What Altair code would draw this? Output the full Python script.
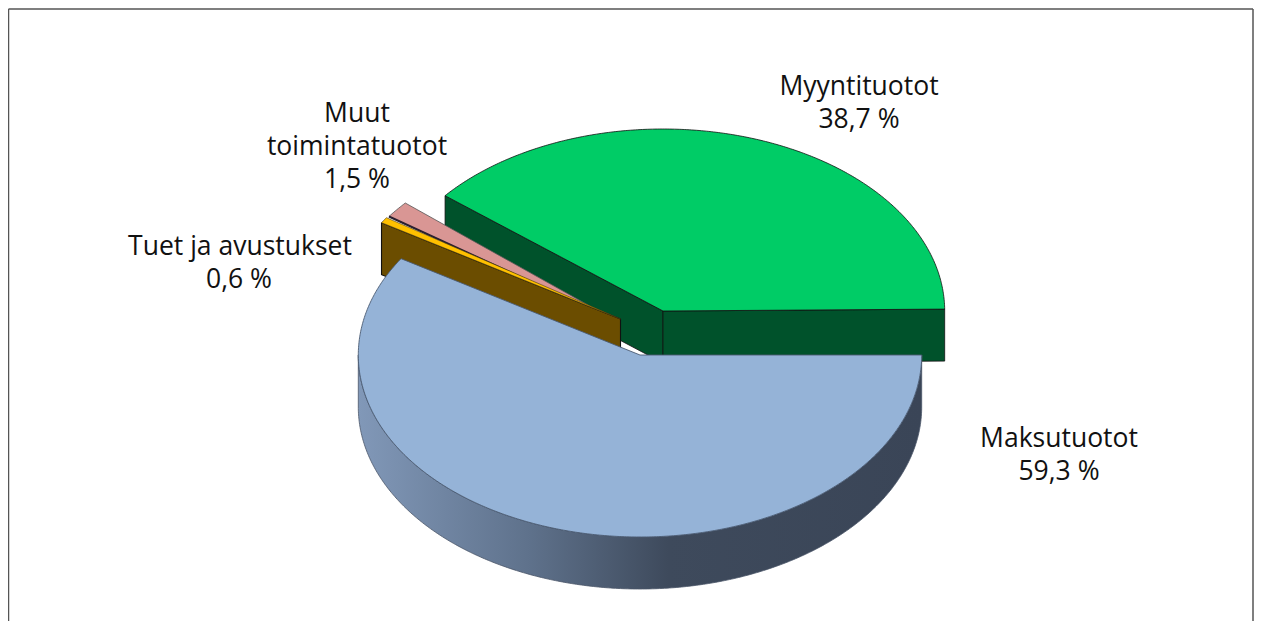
import math
import altair as alt
import pandas as pd

# Shares of revenue, percent
names = ["Maksutuotot", "Tuet ja avustukset", "Muut toimintatuotot", "Myyntituotot"]
shares = [59.3, 0.6, 1.5, 38.7]

label_lines = ["Myyntituotot", "38,7 %", "Muut", "toimintatuotot", "1,5 %",
               "Tuet ja avustukset", "0,6 %", "Maksutuotot", "59,3 %"]
label_x = [859, 859, 357, 357, 357, 240, 239, 1059, 1059]
label_y = [95, 128, 122, 155, 188, 255, 288, 447, 480]

RX, RY, DEPTH = 281.7, 182, 52
centres = {"Maksutuotot": (640, 355), "Tuet ja avustukset": (620.5, 319),
           "Muut toimintatuotot": (618.5, 322), "Myyntituotot": (663, 311)}
# The drawn 3D projection shifts the slice edges a little (degrees: start, end)
angle_shift = {"Maksutuotot": (0, -1.3), "Tuet ja avustukset": (-1.3, -1.6),
               "Muut toimintatuotot": (0, 0), "Myyntituotot": (-1.5, -0.6)}

# Slice angles (clockwise from east) follow from the shares
edges = [0.0]
for s in shares:
    edges.append(edges[-1] + s * 360 / sum(shares))
angle = {n: (edges[i] + angle_shift[n][0], edges[i + 1] + angle_shift[n][1])
         for i, n in enumerate(names)}


def pt(name, deg, dy=0):
    cx, cy = centres[name]
    t = math.radians(deg)
    return (cx + RX * math.cos(t), cy + RY * math.sin(t) + dy)


def arc(name, a, b, dy=0):
    n = max(2, int(abs(b - a) * 2))
    return [pt(name, a + (b - a) * i / n, dy) for i in range(n + 1)]


def wedge(name):
    a, b = angle[name]
    return [centres[name]] + arc(name, a, b) + [centres[name]]


def face(p, q):
    return [p, q, (q[0], q[1] + DEPTH), (p[0], p[1] + DEPTH), p]


x_scale = alt.Scale(domain=[8, 1254], range=[0, 1246], nice=False, zero=False)
y_scale = alt.Scale(domain=[8, 621], range=[0, 613], nice=False, zero=False)


def poly(points, fill, stroke="#111111", width=0.8):
    df = pd.DataFrame(points, columns=["x", "y"])
    df["i"] = range(len(df))
    kw = {"fill": fill} if fill is not None else {}
    return alt.Chart(df).mark_line(stroke=stroke, strokeWidth=width, strokeJoin="miter",
                                   clip=False, **kw).encode(
        x=alt.X("x:Q", scale=x_scale, axis=None),
        y=alt.Y("y:Q", scale=y_scale, axis=None),
        order="i:Q",
    )


def frame(x1, y1, x2, y2):
    df = pd.DataFrame({"x": [x1], "y": [y1], "x2": [x2], "y2": [y2]})
    return alt.Chart(df).mark_rule(color="#555555", strokeWidth=1.5).encode(
        x=alt.X("x:Q", scale=x_scale, axis=None), x2="x2:Q",
        y=alt.Y("y:Q", scale=y_scale, axis=None), y2="y2:Q",
    )


blue_wall_fill = alt.Gradient(
    gradient="linear", x1=0, x2=1, y1=0, y2=0,
    stops=[alt.GradientStop(offset=0, color="#8198b8"),
           alt.GradientStop(offset=0.3, color="#5f728c"),
           alt.GradientStop(offset=0.55, color="#3e4a5c"),
           alt.GradientStop(offset=1, color="#3a4557")],
)

g = "Myyntituotot"
layers = [
    frame(8.5, 9, 1253, 9),
    frame(8.5, 9, 8.5, 621),
    frame(1253, 9, 1253, 621),
    # Sales slice: two cut faces and the top
    poly(face(pt(g, angle[g][0]), centres[g]), "#00522b"),
    poly(face(centres[g], pt(g, angle[g][1])), "#00522b"),
    poly(wedge(g), "#00cc66"),
    # Other income slice
    poly(wedge("Muut toimintatuotot"), "#d99694", stroke="#555555"),
    poly([pt("Muut toimintatuotot", angle["Muut toimintatuotot"][0]),
          centres["Muut toimintatuotot"]], None, stroke="#2a2030", width=2),
    # Grants slice
    poly(face(pt("Tuet ja avustukset", angle["Tuet ja avustukset"][0]),
              centres["Tuet ja avustukset"]), "#6b4d00", width=1.1),
    poly(wedge("Tuet ja avustukset"), "#ffc000", stroke="#4a3a10", width=0.6),
    # Fee slice: wall then top
    poly(arc("Maksutuotot", 0, 180) + arc("Maksutuotot", 180, 0, DEPTH)
         + [pt("Maksutuotot", 0)], blue_wall_fill, stroke="#4a5668", width=0.8),
    poly(wedge("Maksutuotot"), "#95b3d7", stroke="#4a5a72", width=0.9),
]

labels = pd.DataFrame({"t": label_lines, "x": label_x, "y": label_y})
layers.append(
    alt.Chart(labels).mark_text(font="Open Sans", fontSize=26.5, align="center",
                                baseline="alphabetic", color="#111111").encode(
        x=alt.X("x:Q", scale=x_scale, axis=None),
        y=alt.Y("y:Q", scale=y_scale, axis=None),
        text="t:N",
    )
)

chart = alt.layer(*layers).properties(
    width=1246, height=613, padding=0, autosize=alt.AutoSizeParams(type="none"),
).configure_view(stroke=None)

chart.save("out.html", embed_options={"renderer": "svg", "actions": False})
